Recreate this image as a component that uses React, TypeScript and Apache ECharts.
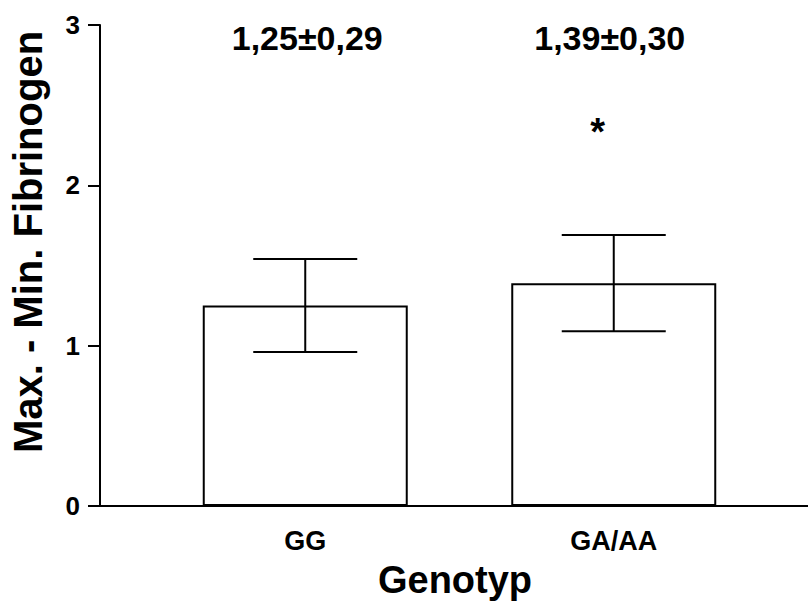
import React, { useEffect, useRef } from "react";
import * as echarts from "echarts";

const categories = ["GG", "GA/AA"];
const means = [1.25, 1.39];
const sds = [0.29, 0.3];
const meanLabels = ["1,25±0,29", "1,39±0,30"];
const significance = ["", "*"];
const yMin = 0;
const yMax = 3;
const yInterval = 1;
const xTitle = "Genotyp";
const yTitle = "Max. - Min. Fibrinogen";

const FONT = "'Liberation Sans', Arial, Helvetica, sans-serif";

export default function App() {
  const ref = useRef<HTMLDivElement>(null);
  useEffect(() => {
    if (!ref.current) return;
    const chart = echarts.init(ref.current, null, { renderer: "svg" });
    const errData = categories.map((_, i) => [i, means[i], sds[i]]);
    chart.setOption({
      animation: false,
      backgroundColor: "#fff",
      textStyle: { fontFamily: FONT, color: "#000" },
      grid: [
        { left: 151, right: 40, top: 25, bottom: 102 },
        { left: 100, right: 0, top: 25, bottom: 102 },
      ],
      xAxis: [
        {
          type: "category",
          gridIndex: 0,
          data: categories,
          axisLine: { show: false },
          axisTick: { show: false },
          axisLabel: {
            margin: 21,
            color: "#000",
            fontSize: 27,
            fontWeight: "bold",
            fontFamily: FONT,
          },
        },
        {
          type: "value",
          gridIndex: 1,
          min: 0,
          max: 1,
          axisLine: { show: true, lineStyle: { color: "#000", width: 2 } },
          axisTick: { show: false },
          axisLabel: { show: false },
          splitLine: { show: false },
        },
      ],
      yAxis: [
        {
          type: "value",
          gridIndex: 0,
          min: yMin,
          max: yMax,
          interval: yInterval,
          offset: 51,
          axisLine: { show: true, onZero: false, lineStyle: { color: "#000", width: 2 } },
          axisTick: { show: true, inside: false, length: 12, lineStyle: { color: "#000", width: 2 } },
          axisLabel: {
            show: true,
            margin: 20,
            color: "#000",
            fontSize: 26,
            fontWeight: "bold",
            fontFamily: FONT,
          },
          splitLine: { show: false },
        },
        {
          type: "value",
          gridIndex: 1,
          min: yMin,
          max: yMax,
          interval: yInterval,
          show: false,
        },
      ],
      graphic: [
        {
          type: "text",
          x: 28,
          y: 242,
          rotation: Math.PI / 2,
          style: {
            text: yTitle,
            fontSize: 40,
            fontWeight: "bold",
            fontFamily: FONT,
            fill: "#000",
            textAlign: "center",
            textVerticalAlign: "middle",
          },
        },
        {
          type: "text",
          x: 455,
          y: 580,
          style: {
            text: xTitle,
            fontSize: 38,
            fontWeight: "bold",
            fontFamily: FONT,
            fill: "#000",
            textAlign: "center",
            textVerticalAlign: "middle",
          },
        },
      ],
      series: [
        {
          type: "bar",
          xAxisIndex: 0,
          yAxisIndex: 0,
          data: means,
          barWidth: 205,
          itemStyle: { color: "#fff", borderColor: "#000", borderWidth: 2 },
          z: 2,
        },
        {
          type: "custom",
          xAxisIndex: 0,
          yAxisIndex: 0,
          data: errData,
          encode: { x: 0, y: 1 },
          z: 5,
          renderItem: (params: any, api: any) => {
            const i = params.dataIndex;
            const x = api.value(0);
            const m = api.value(1);
            const s = api.value(2);
            const top = api.coord([x, m + s]);
            const bot = api.coord([x, m - s]);
            const hw = 52;
            const cs = params.coordSys;
            const ls = { stroke: "#000", lineWidth: 2 };
            const children: any[] = [
              { type: "line", shape: { x1: top[0], y1: top[1], x2: bot[0], y2: bot[1] }, style: ls },
              { type: "line", shape: { x1: top[0] - hw, y1: top[1], x2: top[0] + hw, y2: top[1] }, style: ls },
              { type: "line", shape: { x1: bot[0] - hw, y1: bot[1], x2: bot[0] + hw, y2: bot[1] }, style: ls },
              {
                type: "text",
                x: top[0] + (i === 0 ? 2 : -4),
                y: cs.y + 13,
                style: {
                  text: meanLabels[i],
                  fontSize: 34,
                  fontWeight: "bold",
                  fontFamily: FONT,
                  fill: "#000",
                  textAlign: "center",
                  textVerticalAlign: "middle",
                },
              },
            ];
            if (significance[i]) {
              children.push({
                type: "text",
                x: top[0] - 16,
                y: cs.y + 107,
                style: {
                  text: significance[i],
                  fontSize: 38,
                  fontWeight: "bold",
                  fontFamily: FONT,
                  fill: "#000",
                  textAlign: "center",
                  textVerticalAlign: "middle",
                },
              });
            }
            return { type: "group", children };
          },
        },
      ],
    });
    return () => chart.dispose();
  }, []);
  return (
    <div
      ref={ref}
      style={{ position: "fixed", left: 0, top: 0, width: 808, height: 608, background: "#fff" }}
    />
  );
}
